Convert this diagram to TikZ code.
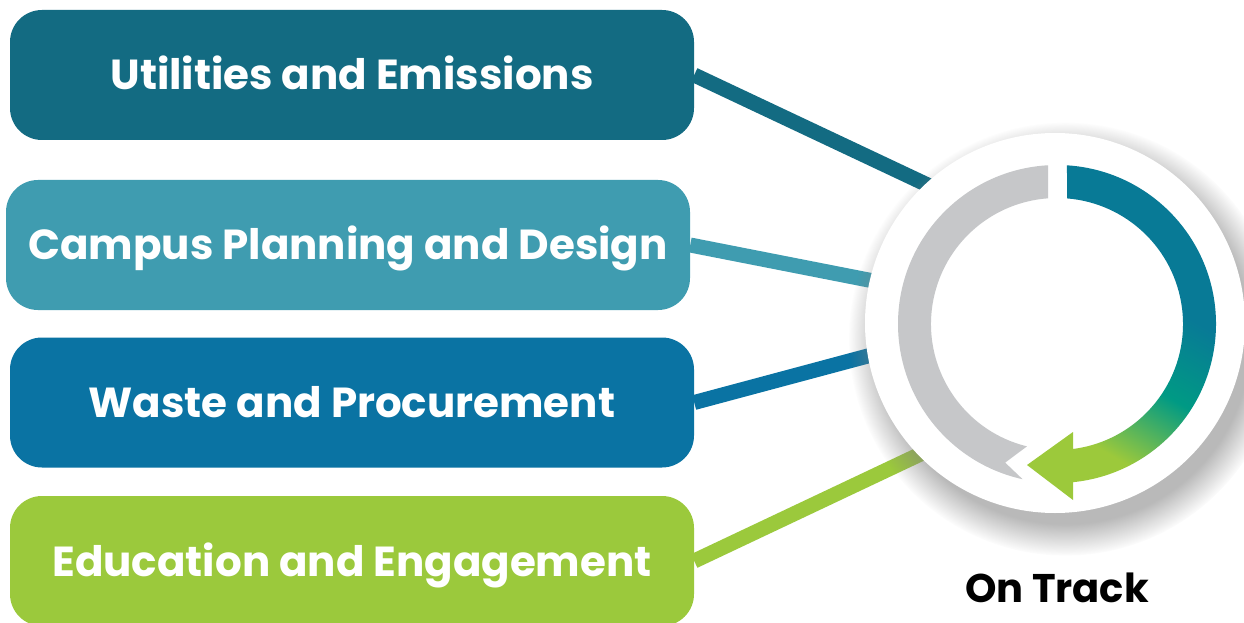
\documentclass[tikz,border=0pt]{standalone}
\usepackage{fontspec}
\setmainfont{Poppins}
\usetikzlibrary{calc,shadows,backgrounds}
\definecolor{cA}{HTML}{136B82}
\definecolor{cB}{HTML}{3F9CB0}
\definecolor{cC}{HTML}{0A73A3}
\definecolor{cD}{HTML}{9BC93C}
\definecolor{ringgray}{HTML}{C6C7C9}
\definecolor{tealB}{HTML}{087A96}
\definecolor{tealG}{HTML}{009A84}
\definecolor{limeG}{HTML}{9CC93B}
\pgfdeclareverticalshading{ringshade}{100bp}{color(0bp)=(limeG); color(30bp)=(limeG); color(44bp)=(tealG); color(58bp)=(tealB); color(100bp)=(tealB)}
\tikzset{
  box/.style={rounded corners=32pt, minimum width=684pt, minimum height=130pt, inner sep=0pt,
    text=white, font=\bfseries\fontsize{42}{42}\selectfont, text height=30pt, text depth=0pt},
  link/.style={line width=15pt},
  status/.style={font=\bfseries\fontsize{40}{40}\selectfont, text height=28pt, text depth=0pt, inner sep=0pt}
}
\begin{document}
\begin{tikzpicture}[x=1pt,y=1pt]
\useasboundingbox (0,0) rectangle (1244,622);
% boxes
\node[box, fill=cA] (b1) at (352,547) {Utilities and Emissions};
\node[box, fill=cB] (b2) at (348,377) {Campus Planning and Design};
\node[box, fill=cC] (b3) at (352,219.5) {Waste and Procurement};
\node[box, fill=cD] (b4) at (352,61) {Education and Engagement};
% circle with shadow
\node[circle, fill=white, minimum size=380pt, inner sep=0pt,
  circular drop shadow={shadow xshift=9pt, shadow yshift=-14pt, shadow scale=1.14, opacity=0.55}] (circ) at (1055,299) {};
% connectors behind everything
\begin{scope}[on background layer]
\fill[white] (0,0) rectangle (1244,622);
\draw[link, cA] (b1.east) -- ($(b1.east)!1.1!(circ.133)$);
\draw[link, cB] (b2.east) -- ($(b2.east)!1.1!(circ.167)$);
\draw[link, cC] (b3.east) -- ($(b3.east)!1.1!(circ.190)$);
\draw[link, cD] (b4.east) -- ($(b4.east)!1.1!(circ.224)$);
\end{scope}
\coordinate (rc) at ($(circ.center)+(2,-1)$);
% gray arc with notched tail
\fill[ringgray] ($(rc)+(93.2:159pt)$) arc[start angle=93.2, end angle=257.5, radius=159pt]
  -- ($(rc)+(249.5:148pt)$) -- ($(rc)+(256.2:126pt)$)
  arc[start angle=256.2, end angle=94.1, radius=126pt] -- cycle;
% gradient arrow
\shade[shading=ringshade, shading angle=-30] ($(rc)+(86.4:159pt)$) arc[start angle=86.4, end angle=-84.2, radius=159pt]
  -- ($(rc)+(16,-176)$) -- ($(rc)+(-30,-141)$) -- ($(rc)+(16,-108)$)
  -- ($(rc)+(-82.7:126pt)$) arc[start angle=-82.7, end angle=85.45, radius=126pt] -- cycle;
% status label
\node[status] (ot) at (1057,34) {On Track};
\end{tikzpicture}
\end{document}
